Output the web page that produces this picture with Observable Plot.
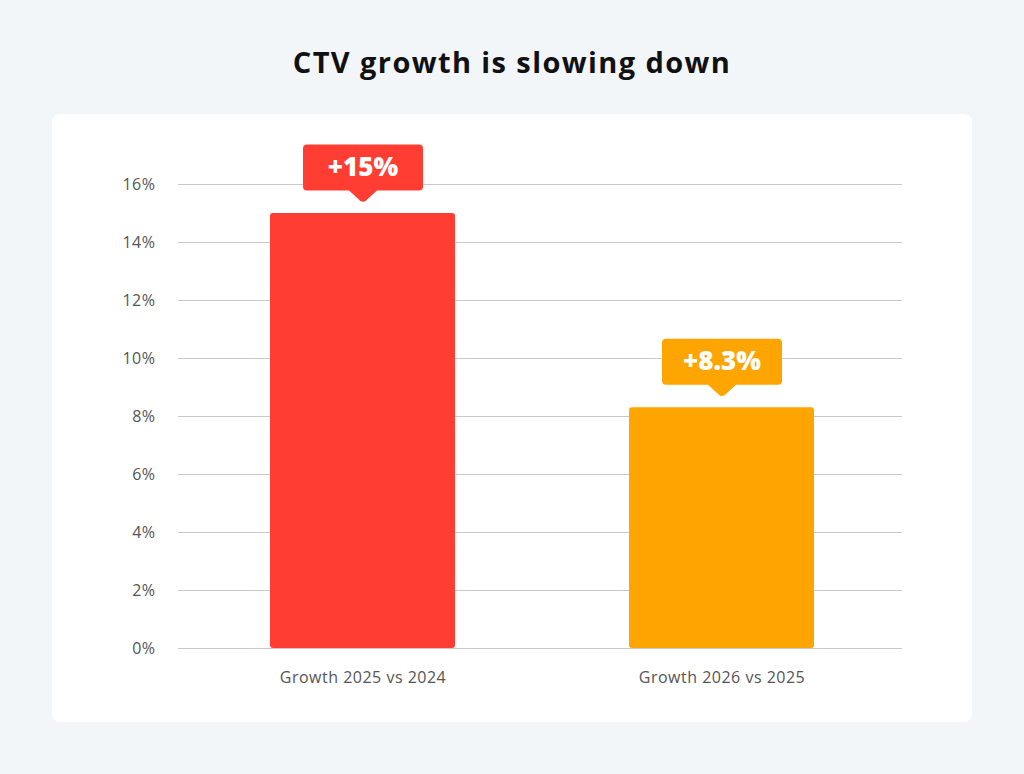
<!DOCTYPE html>
<html><head><meta charset="utf-8">
<script src="https://cdn.jsdelivr.net/npm/d3@7"></script>
<script src="https://cdn.jsdelivr.net/npm/@observablehq/plot@0.6"></script>
<style>
html,body{margin:0;padding:0;background:#f3f6f9;width:1024px;height:774px;overflow:hidden;font-family:"Open Sans",sans-serif}
#title{position:absolute;left:0;top:42px;width:1024px;text-align:center;font-size:29px;font-weight:700;color:#111;line-height:40px;letter-spacing:1.4px}
#card{position:absolute;left:52px;top:114px;width:920px;height:608px;background:#fff;border-radius:8px;}
#card svg{display:block}
#card svg g[aria-label$="tick label"] text{letter-spacing:0.5px}
</style></head><body>
<div id="title">CTV growth is slowing down</div>
<div id="card"></div>
<script>
const categories = ["Growth 2025 vs 2024", "Growth 2026 vs 2025"];
const values = [15, 8.3];
const labels = ["+15%", "+8.3%"];
const colors = ["#ff3d33", "#ffa502"];
const yTicks = [0, 2, 4, 6, 8, 10, 12, 14, 16];

const data = categories.map((c, i) => ({category: c, value: values[i], label: labels[i]}));

// callout bubble shape, drawn relative to the bar top
const callout = {
  draw(ctx) {
    const w = 60, top = -69, bot = -23, r = 4, tip = -11, hb = 14;
    ctx.moveTo(-w + r, top);
    ctx.lineTo(w - r, top);
    ctx.arcTo(w, top, w, top + r, r);
    ctx.lineTo(w, bot - r);
    ctx.arcTo(w, bot, w - r, bot, r);
    ctx.lineTo(hb, bot);
    ctx.lineTo(2.5, tip - 1.5);
    ctx.quadraticCurveTo(0, tip, -2.5, tip - 1.5);
    ctx.lineTo(-hb, bot);
    ctx.lineTo(-w + r, bot);
    ctx.arcTo(-w, bot, -w, bot - r, r);
    ctx.lineTo(-w, top + r);
    ctx.arcTo(-w, top, -w + r, top, r);
    ctx.closePath();
  }
};

const chart = Plot.plot({
  width: 920,
  height: 608,
  marginLeft: 126,
  marginRight: 70,
  marginTop: 70,
  marginBottom: 74,
  style: {fontFamily: "'Open Sans', sans-serif", fontSize: "16px", color: "#555", background: "transparent"},
  x: {domain: categories, paddingInner: 0.485, paddingOuter: 0.25, align: 0.511, label: null, tickSize: 0, tickPadding: 23},
  y: {domain: [0, 16], ticks: yTicks, tickFormat: d => d + "%", tickSize: 0, tickPadding: 23, label: null},
  color: {domain: categories, range: colors},
  marks: [
    Plot.ruleY(yTicks, {stroke: "#c8c8c8", strokeWidth: 1}),
    Plot.barY(data, {x: "category", y: "value", fill: "category", rx: 3}),
    Plot.dot(data, {x: "category", y: "value", fill: "category", symbol: callout, r: 10}),
    Plot.text(data, {x: "category", y: "value", text: "label", dy: -46, fill: "white", fontSize: 26, fontWeight: 800})
  ]
});
document.getElementById("card").appendChild(chart);
</script>
</body></html>
